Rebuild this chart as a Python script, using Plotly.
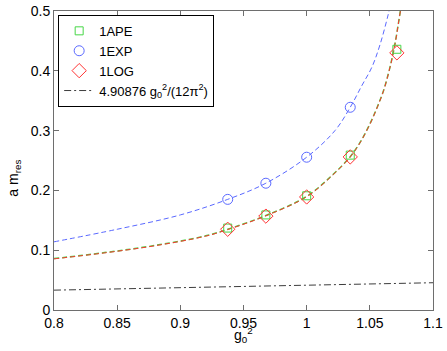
import plotly.graph_objects as go

# measured points (g0^2 = 6/beta)
g2_pts = [0.9375, 0.9677, 1.0, 1.0345, 1.0714]
ape_pts = [0.137, 0.159, 0.191, 0.259, 0.436]
exp_pts = [0.185, 0.212, 0.2555, 0.339]
log_pts = [0.135, 0.157, 0.189, 0.256, 0.430]

# fitted curves
fit_x_exp = [0.80, 0.85, 0.90, 0.9375, 0.9677, 1.0, 1.0224, 1.0345, 1.0436, 1.0515, 1.0581, 1.0646, 1.068]
fit_y_exp = [0.114, 0.135, 0.159, 0.185, 0.212, 0.2555, 0.300, 0.339, 0.375, 0.4055, 0.444, 0.4945, 0.525]

fit_x_ape = [0.80, 0.84, 0.88, 0.92, 0.9375, 0.9677, 1.0, 1.02, 1.0343, 1.0422, 1.050, 1.056,
             1.061, 1.065, 1.068, 1.0705, 1.0725, 1.0745, 1.076]
fit_y_ape = [0.086, 0.096, 0.108, 0.124, 0.135, 0.158, 0.190, 0.225, 0.256, 0.280, 0.311, 0.340,
             0.368, 0.398, 0.425, 0.452, 0.478, 0.505, 0.53]
fit_y_log = [0.0855, 0.0955, 0.1075, 0.1235, 0.1345, 0.1575, 0.1895, 0.2245, 0.2555, 0.2795, 0.3105, 0.3395,
             0.3675, 0.3975, 0.4245, 0.4515, 0.4775, 0.5045, 0.53]

# 4.90876 g0^2/(12 pi^2) line
pt_x = [0.8, 1.1]
pt_y = [0.0332, 0.0456]

green = 'rgb(70,215,70)'
blue = 'rgb(90,105,255)'
red = 'rgb(255,50,50)'

fig = go.Figure()

fig.add_trace(go.Scatter(x=fit_x_exp, y=fit_y_exp, mode='lines', line_shape='spline', showlegend=False,
                         line=dict(color=blue, width=1, dash='5px,3px')))
fig.add_trace(go.Scatter(x=fit_x_ape, y=fit_y_ape, mode='lines', line_shape='spline', showlegend=False,
                         line=dict(color=green, width=1.5, dash='5px,3px')))
fig.add_trace(go.Scatter(x=fit_x_ape, y=fit_y_log, mode='lines', line_shape='spline', showlegend=False,
                         line=dict(color=red, width=1, dash='5px,3px')))

fig.add_trace(go.Scatter(x=g2_pts, y=ape_pts, mode='markers', name='1APE',
                         marker=dict(symbol='square-open', size=8, color=green, line=dict(width=1))))
fig.add_trace(go.Scatter(x=g2_pts[:4], y=exp_pts, mode='markers', name='1EXP',
                         marker=dict(symbol='circle-open', size=10, color=blue, line=dict(width=1))))
fig.add_trace(go.Scatter(x=g2_pts, y=log_pts, mode='markers', name='1LOG',
                         marker=dict(symbol='diamond-open', size=11, color=red, line=dict(width=1))))
fig.add_trace(go.Scatter(x=pt_x, y=pt_y, mode='lines', name='4.90876 g<sub>0</sub><sup>2</sup>/(12π<sup>2</sup>)',
                         line=dict(color='rgb(60,60,60)', width=1, dash='7px,3px,2px,3px')))

axis_style = dict(showline=True, linecolor='rgb(110,110,110)', linewidth=1, mirror='ticks',
                  ticks='inside', ticklen=5, tickcolor='rgb(110,110,110)', showgrid=False,
                  zeroline=False, automargin=False, tickfont=dict(size=14, color='black'))

fig.update_xaxes(range=[0.8, 1.1], dtick=0.05, tick0=0.8, **axis_style)
fig.update_yaxes(range=[0, 0.5], dtick=0.1, tick0=0, **axis_style)

fig.update_layout(
    width=447, height=351,
    margin=dict(l=54, r=14, t=11, b=41, autoexpand=False),
    plot_bgcolor='white', paper_bgcolor='white',
    font=dict(family='Liberation Sans, Arial, sans-serif', size=14, color='black'),
    legend=dict(x=0.011, y=0.987, xanchor='left', yanchor='top', bgcolor='white',
                bordercolor='black', borderwidth=1, font=dict(size=13),
                tracegroupgap=0, itemwidth=30),
    annotations=[
        dict(text='g<sub>0</sub><sup>2</sup>', xref='paper', yref='paper', x=0.5, y=-0.045,
             xanchor='center', yanchor='top', showarrow=False, font=dict(size=14)),
        dict(text='a m<sub>res</sub>', xref='paper', yref='paper', x=-0.105, y=0.44,
             xanchor='center', yanchor='middle', textangle=-90, showarrow=False, font=dict(size=14)),
    ],
)

fig.write_html("out.html", config={'displayModeBar': False},
               post_script="document.body.style.margin='0';")
